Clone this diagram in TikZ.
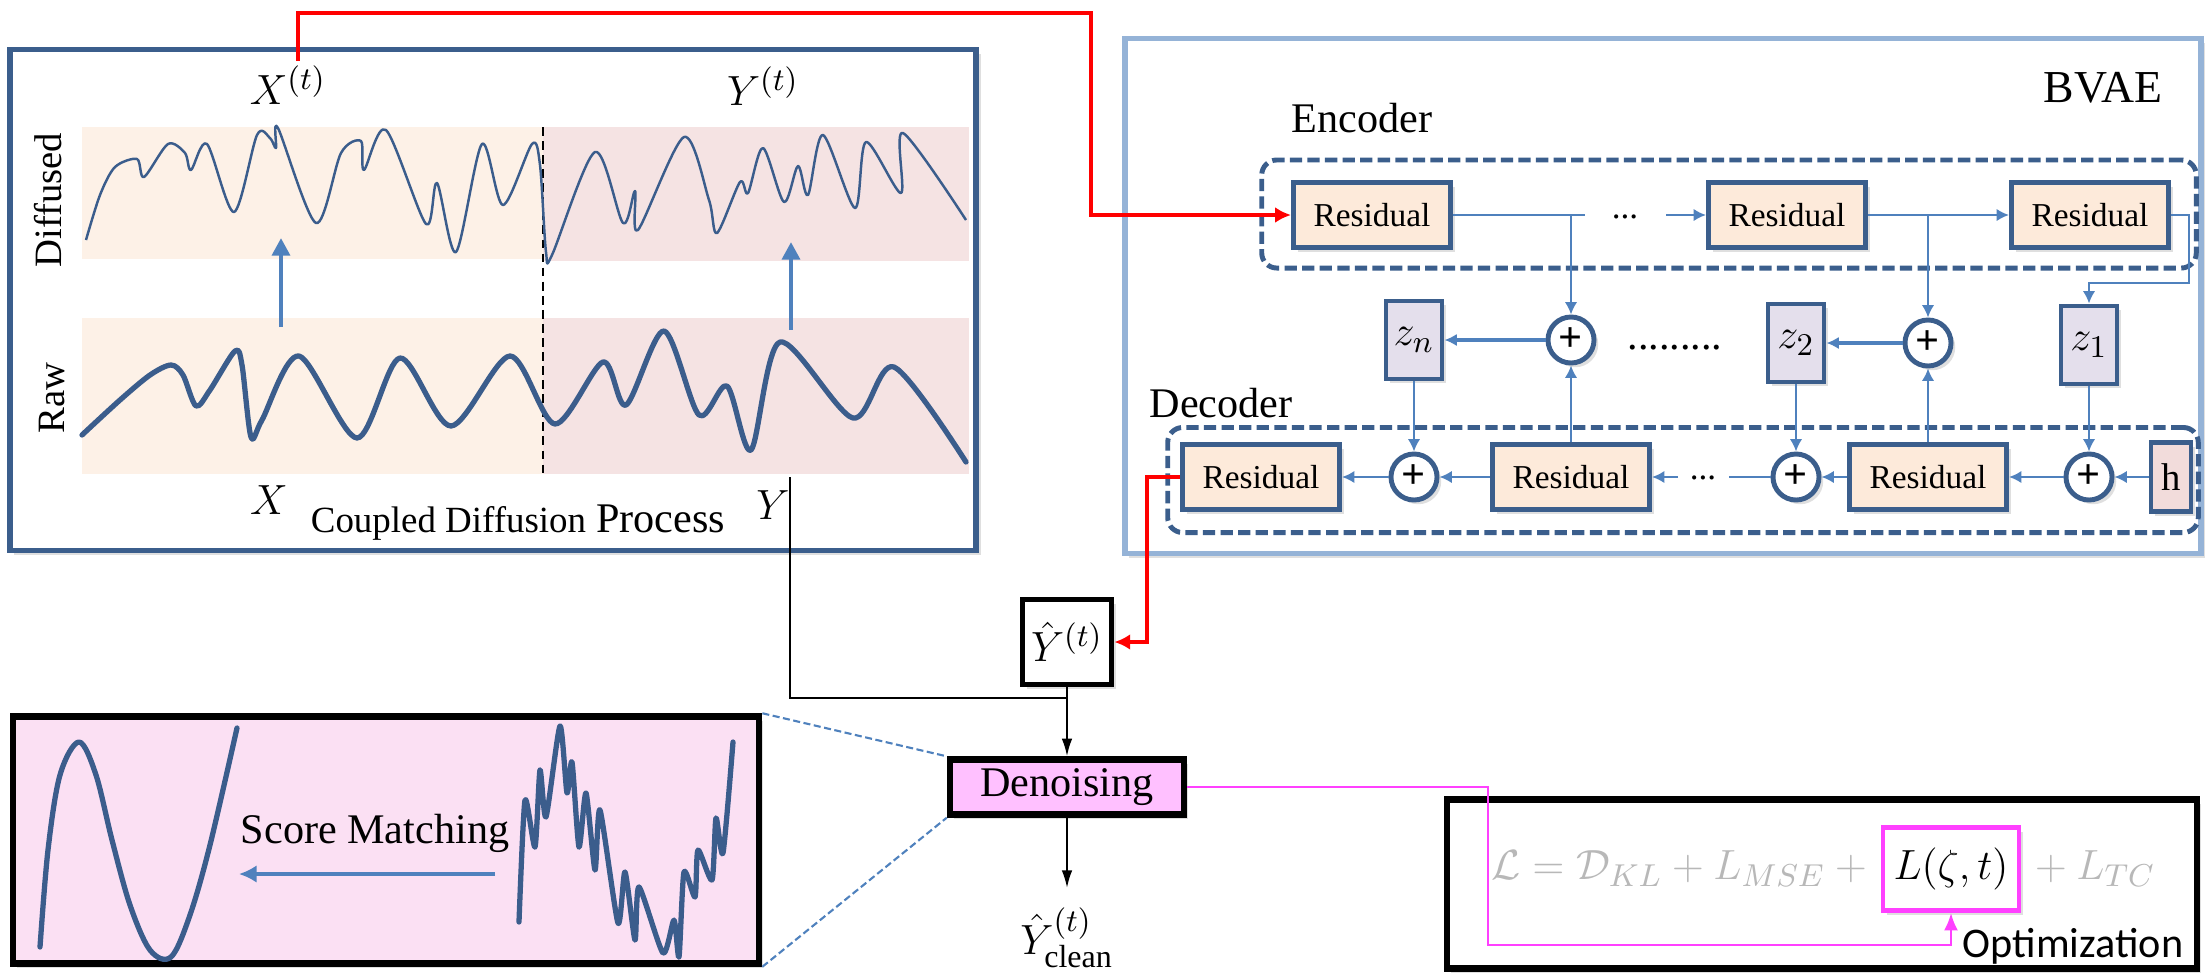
\documentclass[tikz,border=0pt]{standalone}
\usepackage{fontspec}
\setmainfont{Liberation Serif}
\newfontfamily\carl{Carlito}
\usetikzlibrary{arrows.meta,shadows}
\definecolor{dkb}{RGB}{59,94,140}
\definecolor{arrb}{RGB}{79,129,189}
\definecolor{resf}{RGB}{253,234,218}
\definecolor{zf}{RGB}{228,223,236}
\definecolor{hf}{RGB}{242,220,219}
\definecolor{bvb}{RGB}{149,179,215}
\definecolor{orb}{RGB}{253,241,231}
\definecolor{pkb}{RGB}{245,227,227}
\definecolor{smf}{RGB}{251,224,243}
\definecolor{denf}{RGB}{255,192,255}
\definecolor{mag}{RGB}{255,64,255}
\definecolor{crv}{RGB}{59,93,140}
\tikzset{
  shd/.style={drop shadow={opacity=0.25,shadow xshift=1.2pt,shadow yshift=-1.2pt}},
  resbox/.style={draw=dkb,line width=1.4pt,fill=resf,minimum width=1.57cm,minimum height=0.65cm,inner sep=0pt,font=\fontsize{9.5}{10}\selectfont,shd},
  zbox/.style={draw=dkb,line width=1.4pt,fill=zf,minimum width=0.56cm,minimum height=0.78cm,inner sep=0pt,font=\fontsize{13}{15}\selectfont,shd},
  plusc/.style={circle,draw=dkb,line width=1.4pt,fill=white,minimum size=0.46cm,inner sep=0pt,font=\bfseries\fontsize{12}{12}\selectfont,shd},
  flow/.style={draw=arrb,line width=0.6pt,-{Latex[length=3.5pt,width=3.5pt]}},
  flowl/.style={draw=arrb,line width=0.6pt},
  dashbox/.style={draw=dkb,line width=1.4pt,dash pattern=on 3.5pt off 1.5pt,rounded corners=0.15cm,inner sep=0pt},
  redarr/.style={draw=red,line width=0.9pt,-{Latex[length=4.5pt,width=4.5pt]}},
  blkarr/.style={draw=black,line width=0.6pt,-{Latex[length=5pt,width=3pt]}},
  bigarr/.style={draw=arrb,line width=1.4pt,-{Triangle[length=5pt,width=5pt]}},
  lbl/.style={inner sep=1pt,font=\fontsize{11.5}{13}\selectfont},
  thin curve/.style={draw=crv,line width=0.7pt,line join=round},
  thick curve/.style={draw=crv,line width=1.5pt,line join=round,line cap=round},
}
\begin{document}
\begin{tikzpicture}[x=0.01cm,y=-0.01cm]
\useasboundingbox (0,0) rectangle (2205,975);

% ---------------- Left panel ----------------
\node[draw=dkb,line width=1.6pt,fill=white,minimum width=9.66cm,minimum height=5.01cm,inner sep=0pt,shd] (lp) at (493,300) {};
\fill[orb] (82,127) rectangle (543,259);
\fill[pkb] (543,127) rectangle (969,261);
\fill[orb] (82,318) rectangle (543,474);
\fill[pkb] (543,318) rectangle (969,474);
\draw[black,line width=0.5pt,dash pattern=on 2.5pt off 1.5pt] (543,127) -- (543,474);

% diffused curve
\draw[thin curve] plot[smooth,tension=0.5] coordinates {(86,240) (100,195) (115,167) (137,159) (144,177) (168,144) (185,153) (191,170) (207,144) (234,212) (257,135) (270,138) (276,148) (278,128) (316,223) (341,153) (361,141) (364,170) (386,130) (426,224) (437,183) (456,252) (482,144) (503,205) (532,144) (540,165) (546,252) (552,255) (595,152) (623,223) (635,191) (638,230) (684,137) (709,200) (717,233) (740,182) (748,193) (763,148) (784,202) (798,166) (808,195) (823,135) (855,208) (866,142) (901,193) (903,133) (966,220)};
% raw curve
\draw[thick curve] plot[smooth,tension=0.5] coordinates {(82,435) (120,400) (150,375) (171,365) (183,375) (196,406) (210,390) (235,351) (242,365) (251,437) (262,420) (299,356) (357,438) (400,358) (451,426) (510,356) (555,424) (603,362) (626,405) (664,331) (699,415) (727,386) (751,450) (780,342) (853,418) (894,367) (966,462)};

\coordinate (ax1) at (281,327); \coordinate (ax2) at (281,238);
\coordinate (ay1) at (791,330); \coordinate (ay2) at (791,242);
\draw[bigarr] (ax1) -- (ax2);
\draw[bigarr] (ay1) -- (ay2);

\node[lbl,font=\fontsize{13}{15}\selectfont] (xt) at (288,85) {$X^{(t)}$};
\node[lbl,font=\fontsize{13}{15}\selectfont] (yt) at (763,86) {$Y^{(t)}$};
\node[lbl,rotate=90,font=\fontsize{11}{13}\selectfont] (dif) at (48,200) {Diffused};
\node[lbl,rotate=90,font=\fontsize{11}{13}\selectfont] (raw) at (52,398) {Raw};
\node[lbl,font=\fontsize{13}{15}\selectfont] (xl) at (269,500) {$X$};
\node[lbl,font=\fontsize{13}{15}\selectfont] (yl) at (773,505) {$Y$};
\node[lbl] (cdp) at (518,523) {{\fontsize{10.5}{12}\selectfont Coupled Diffusion} {\fontsize{12}{14}\selectfont Process}};

% ---------------- BVAE ----------------
\node[draw=bvb,line width=1.6pt,fill=white,minimum width=10.75cm,minimum height=5.15cm,inner sep=0pt,shd] (bv) at (1663,296) {};
\node[lbl,font=\fontsize{13}{15}\selectfont] (bvl) at (2103,88) {BVAE};
\node[lbl,font=\fontsize{12}{14}\selectfont] (encl) at (1362,118) {Encoder};
\node[lbl,font=\fontsize{12}{14}\selectfont] (decl) at (1221,403) {Decoder};

\node[dashbox,minimum width=9.34cm,minimum height=1.08cm] (enc) at (1729,214) {};
\node[dashbox,minimum width=10.3cm,minimum height=1.05cm] (dec) at (1683,480) {};

\node[resbox] (r1) at (1372,215) {Residual};
\node[resbox] (r2) at (1787,215) {Residual};
\node[resbox] (r3) at (2090,215) {Residual};

\node[zbox] (zn) at (1414,340) {$z_n$};
\node[zbox] (z2) at (1796,343) {$z_2$};
\node[zbox] (z1) at (2089,345) {$z_1$};
\node[plusc] (p1) at (1571,340) {+};
\node[plusc] (p2) at (1928,343) {+};
\node[font=\fontsize{12}{14}\selectfont] (dots3) at (1675,348) {.........};

\node[resbox] (d1) at (1261,477) {Residual};
\node[plusc] (pd1) at (1414,477) {+};
\node[resbox] (d2) at (1571,477) {Residual};
\node[font=\fontsize{10}{12}\selectfont] (dots2) at (1703,478) {...};
\node[plusc] (pd2) at (1796,477) {+};
\node[resbox] (d3) at (1928,477) {Residual};
\node[plusc] (pd3) at (2089,477) {+};
\node[draw=dkb,line width=1.4pt,fill=hf,minimum width=0.40cm,minimum height=0.69cm,inner sep=0pt,font=\fontsize{11}{12}\selectfont,shd] (h) at (2171,477) {h};

% encoder flow
\coordinate (e1) at (1585,215);
\node[font=\fontsize{10}{12}\selectfont] (dots1) at (1625,217) {...};
\coordinate (e2) at (1666,215);
\draw[flowl] (r1.east) -- (e1);
\draw[flow] (e2) -- (r2.west);
\draw[flow] (r2.east) -- (r3.west);
\draw[flow] (p1.north |- r1.east) -- (p1.north);
\draw[flow] (p2.north |- r2.east) -- (p2.north);
\coordinate (c1) at (2189,283);
\draw[flow] (r3.east) -| (c1) -| (z1.north);
\draw[flow,line width=0.9pt] (p1.west) -- (zn.east);
\draw[flow,line width=0.9pt] (p2.west) -- (z2.east);

% decoder flow
\draw[flow] (zn.south) -- (pd1.north);
\draw[flow] (z2.south) -- (pd2.north);
\draw[flow] (z1.south) -- (pd3.north);
\draw[flow] (d2.north) -- (p1.south);
\draw[flow] (d3.north) -- (p2.south);
\draw[flow] (h.west) -- (pd3.east);
\draw[flow] (pd3.west) -- (d3.east);
\draw[flow] (d3.west) -- (pd2.east);
\coordinate (e3) at (1729,477);
\coordinate (e4) at (1678,477);
\draw[flowl] (pd2.west) -- (e3);
\draw[flow] (e4) -- (d2.east);
\draw[flow] (d2.west) -- (pd1.east);
\draw[flow] (pd1.west) -- (d1.east);

% ---------------- lower middle ----------------
\node[draw=black,line width=1.6pt,fill=white,minimum width=0.89cm,minimum height=0.85cm,inner sep=0pt,font=\fontsize{13}{15}\selectfont,shd] (yhat) at (1067,642) {$\hat{Y}^{(t)}$};
\node[draw=black,line width=1.8pt,fill=denf,minimum width=2.34cm,minimum height=0.55cm,inner sep=0pt,font=\fontsize{12}{14}\selectfont,shd] (den) at (1067,787) {Denoising};
\coordinate (ycend) at (1067,888);
\node[inner sep=1pt,font=\fontsize{13}{15}\selectfont] (yc) at (1067,938) {$\hat{Y}^{(t)}_{\mathrm{clean}}$};

% red connectors
\coordinate (xr) at (298,61);
\coordinate (rt) at (1091,13);
\draw[redarr] (xr) |- (rt) |- (r1.west);
\coordinate (rd) at (1147,477);
\draw[redarr] (d1.west) -- (rd) |- (yhat.east);

% black connectors
\coordinate (ytop) at (790,477);
\coordinate (yj) at (1067,698);
\draw[black,line width=0.6pt] (ytop) |- (yj);
\draw[blkarr] (yhat.south) -- (den.north);
\draw[blkarr] (den.south) -- (ycend);

% ---------------- score matching ----------------
\node[draw=black,line width=1.8pt,fill=smf,minimum width=7.46cm,minimum height=2.47cm,inner sep=0pt,shd] (sm) at (386,840) {};
\draw[thick curve] plot[smooth,tension=0.55] coordinates {(40,947) (48,850) (60,775) (79,742) (96,775) (112,840) (130,905) (150,950) (171,957) (190,915) (210,845) (237,728)};
\draw[thick curve] plot[smooth,tension=0.4] coordinates {(519,922) (525,800) (535,847) (540,770) (546,817) (560,726) (567,793) (572,762) (579,847) (586,793) (595,870) (600,810) (618,923) (625,872) (635,940) (639,887) (663,953) (674,920) (679,957) (684,872) (695,897) (698,850) (712,880) (716,818) (723,853) (733,742)};
\node[lbl,font=\fontsize{12}{14}\selectfont] (sml) at (375,833) {Score Matching};
\coordinate (sa1) at (495,874); \coordinate (sa2) at (239,874);
\draw[flow,line width=0.9pt,-{Latex[length=5pt,width=5pt]}] (sa1) -- (sa2);
\draw[arrb,line width=0.6pt,dash pattern=on 2pt off 1pt] (sm.north east) -- (den.north west);
\draw[arrb,line width=0.6pt,dash pattern=on 2pt off 1pt] (sm.south east) -- (den.south west);

% ---------------- optimization ----------------
\node[draw=black,line width=1.8pt,fill=white,minimum width=7.5cm,minimum height=1.69cm,inner sep=0pt,shd] (ob) at (1822,884) {};
\node[draw=mag,line width=1.3pt,fill=white,minimum width=1.36cm,minimum height=0.83cm,inner sep=1pt,font=\fontsize{12.5}{14}\selectfont,shd] (lz) at (1951,869) {$L(\zeta,t)$};
\node[anchor=east,inner sep=1pt,text=black!28,font=\fontsize{12.5}{14}\selectfont] (fl) at (lz.west) {$\mathcal{L}=\mathcal{D}_{KL}+L_{MSE}+{}$};
\node[anchor=west,inner sep=1pt,text=black!28,font=\fontsize{12.5}{14}\selectfont] (fr) at (lz.east) {${}+L_{TC}$};
\node[inner sep=1pt,font=\carl\fontsize{12}{14}\selectfont] (opt) at (2073,946) {Optimization};
\coordinate (m1) at (1488,945);
\draw[draw=mag,line width=0.8pt,-{Latex[length=5pt,width=4pt]}] (den.east) -| (m1) -| (lz.south);
\end{tikzpicture}
\end{document}
